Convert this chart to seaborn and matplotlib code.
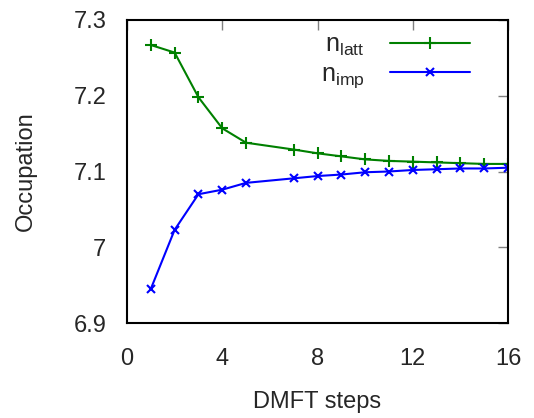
import matplotlib
matplotlib.use("Agg")
import matplotlib.pyplot as plt
import seaborn as sns
import pandas as pd

steps = [1, 2, 3, 4, 5, 7, 8, 9, 10, 11, 12, 13, 14, 15, 16]
n_latt = [7.267, 7.257, 7.198, 7.157, 7.138, 7.129, 7.124, 7.120, 7.116, 7.114, 7.113, 7.112, 7.111, 7.110, 7.110]
n_imp = [6.945, 7.023, 7.070, 7.076, 7.085, 7.091, 7.094, 7.096, 7.099, 7.100, 7.102, 7.103, 7.104, 7.104, 7.105]
xticks = [0, 4, 8, 12, 16]
yticks = [6.9, 7.0, 7.1, 7.2, 7.3]
ytick_labels = ["6.9", "7", "7.1", "7.2", "7.3"]

sns.set_style("white")
plt.rcParams['font.family'] = ['Liberation Sans', 'DejaVu Sans']
plt.rcParams['mathtext.fontset'] = 'custom'
plt.rcParams['mathtext.rm'] = 'Liberation Sans'
plt.rcParams['mathtext.it'] = 'Liberation Sans'

df = pd.DataFrame({"step": steps, "latt": n_latt, "imp": n_imp})

fig = plt.figure(figsize=(5.34, 4.18), dpi=100)
ax = fig.add_axes([127 / 534, 1 - 323 / 418, 381 / 534, 303 / 418])

sns.lineplot(data=df, x="step", y="latt", ax=ax, color="#008000", marker="+",
             markersize=8, markeredgewidth=1.5, markeredgecolor="#008000",
             linewidth=1.5, label=r"$\mathregular{n_{latt}}$")
sns.lineplot(data=df, x="step", y="imp", ax=ax, color="#0000ff", marker="x",
             markersize=6, markeredgewidth=1.5, markeredgecolor="#0000ff",
             linewidth=1.5, label=r"$\mathregular{n_{imp}}$")

ax.set_xlim(0, 16)
ax.set_ylim(6.9, 7.3)
ax.set_xticks(xticks)
ax.set_yticks(yticks)
ax.set_yticklabels(ytick_labels)
ax.tick_params(direction="in", length=7, width=1, color="#808080", labelsize=17,
               top=True, right=True, pad=13)
ax.tick_params(axis="x", pad=18)
ax.tick_params(axis="y", pad=15)
for s in ax.spines.values():
    s.set_linewidth(1.5)
    s.set_color("black")
ax.set_xlabel("DMFT steps", fontsize=17, labelpad=15)
ax.set_ylabel("Occupation", fontsize=17, labelpad=26)

leg = ax.legend(loc="upper right", frameon=False, markerfirst=False, fontsize=18,
                handlelength=3.2, handletextpad=1.0, labelspacing=0.15,
                borderpad=0, borderaxespad=0, bbox_to_anchor=(0.900, 0.957))
for t in leg.get_texts():
    t.set_ha("right")

fig.savefig("out.png", dpi=100)
